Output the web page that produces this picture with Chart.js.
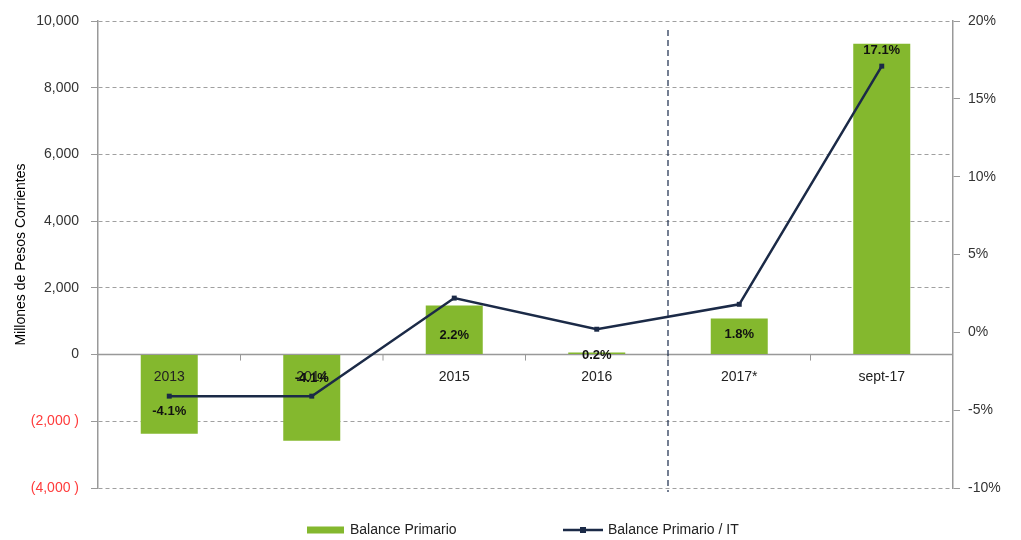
<!DOCTYPE html>
<html>
<head>
<meta charset="utf-8">
<script src="https://cdn.jsdelivr.net/npm/chart.js@4.4.1/dist/chart.umd.min.js"></script>
<style>
  html, body { margin: 0; padding: 0; background: #ffffff; }
  canvas { display: block; }
</style>
</head>
<body>
<canvas id="c" width="1021" height="540"></canvas>
<script>
const categories = ['2013', '2014', '2015', '2016', '2017*', 'sept-17'];
const balancePrimario = [-2370, -2580, 1470, 60, 1080, 9320];
const balancePrimarioIT = [-4.1, -4.1, 2.2, 0.2, 1.8, 17.1];
const leftAxisMin = -4000, leftAxisMax = 10000, leftAxisStep = 2000;
const rightAxisMin = -10, rightAxisMax = 20, rightAxisStep = 5;
const seriesNames = ['Balance Primario', 'Balance Primario / IT'];

// label vertical offsets (style only)
const labelDy = [15, -18, 37, 26, 30, -16];

const FONT = "'Liberation Sans', Arial, sans-serif";
const GREEN = '#84B82E';
const NAVY = '#1B2A47';

function fmtLeft(v) {
  const s = Math.abs(v).toLocaleString('en-US');
  return v < 0 ? '(' + s + ' )' : s;
}

const overlay = {
  id: 'overlay',
  beforeDatasetsDraw(chart) {
    const { ctx, chartArea } = chart;
    const x = chart.scales.x, y = chart.scales.y;
    const y0 = y.getPixelForValue(0);
    ctx.save();
    ctx.strokeStyle = '#999999';
    ctx.lineWidth = 1.5;
    ctx.setLineDash([]);
    ctx.beginPath();
    ctx.moveTo(chartArea.left, y0);
    ctx.lineTo(chartArea.right, y0);
    ctx.stroke();
    ctx.lineWidth = 1;
    for (let i = 0; i < categories.length - 1; i++) {
      const bx = (x.getPixelForValue(i) + x.getPixelForValue(i + 1)) / 2;
      ctx.beginPath();
      ctx.moveTo(bx, y0);
      ctx.lineTo(bx, y0 + 6);
      ctx.stroke();
    }
    ctx.restore();
  },
  afterDatasetsDraw(chart) {
    const { ctx, chartArea } = chart;
    const x = chart.scales.x, y = chart.scales.y;
    const y0 = y.getPixelForValue(0);
    const meta = chart.getDatasetMeta(0);
    ctx.save();
    // category labels (drawn over bars)
    ctx.fillStyle = '#222222';
    ctx.font = '14px ' + FONT;
    ctx.textAlign = 'center';
    ctx.textBaseline = 'middle';
    categories.forEach((c, i) => {
      ctx.fillText(c, x.getPixelForValue(i), y0 + 23);
    });
    // dashed separator between 2016 and 2017*
    const sx = (x.getPixelForValue(3) + x.getPixelForValue(4)) / 2;
    ctx.strokeStyle = '#2A3A58';
    ctx.lineWidth = 1.3;
    ctx.setLineDash([6, 4]);
    ctx.beginPath();
    ctx.moveTo(sx, chartArea.top + 9);
    ctx.lineTo(sx, chartArea.bottom + 4);
    ctx.stroke();
    ctx.setLineDash([]);
    // data labels
    ctx.fillStyle = '#111111';
    ctx.font = 'bold 13px ' + FONT;
    meta.data.forEach((pt, i) => {
      ctx.fillText(balancePrimarioIT[i].toFixed(1) + '%', pt.x, pt.y + labelDy[i]);
    });
    // legend
    const ly = 530;
    ctx.fillStyle = GREEN;
    ctx.fillRect(307, ly - 3.5, 37, 7);
    ctx.fillStyle = '#222222';
    ctx.font = '14px ' + FONT;
    ctx.textAlign = 'left';
    ctx.fillText(seriesNames[0], 350, ly);
    ctx.strokeStyle = NAVY;
    ctx.lineWidth = 2.5;
    ctx.beginPath();
    ctx.moveTo(563, ly);
    ctx.lineTo(603, ly);
    ctx.stroke();
    ctx.fillStyle = NAVY;
    ctx.fillRect(580, ly - 3, 6, 6);
    ctx.fillStyle = '#222222';
    ctx.fillText(seriesNames[1], 608, ly);
    ctx.restore();
  }
};

new Chart(document.getElementById('c'), {
  data: {
    labels: categories,
    datasets: [
      {
        type: 'line',
        label: seriesNames[1],
        data: balancePrimarioIT,
        yAxisID: 'y1',
        borderColor: NAVY,
        backgroundColor: NAVY,
        borderWidth: 2.5,
        pointStyle: 'rect',
        pointRadius: 3.5,
        pointBackgroundColor: NAVY,
        pointBorderWidth: 0,
        tension: 0,
        order: 0
      },
      {
        type: 'bar',
        label: seriesNames[0],
        data: balancePrimario,
        yAxisID: 'y',
        backgroundColor: GREEN,
        borderWidth: 0,
        barPercentage: 0.4,
        categoryPercentage: 1,
        order: 1
      }
    ]
  },
  options: {
    responsive: false,
    animation: false,
    layout: { padding: { top: 21, bottom: 52, left: 0, right: 0 } },
    plugins: { legend: { display: false }, tooltip: { enabled: false } },
    scales: {
      x: { display: false, offset: true },
      y: {
        position: 'left',
        min: leftAxisMin, max: leftAxisMax,
        ticks: {
          stepSize: leftAxisStep,
          callback: v => fmtLeft(v),
          color: c => (c.tick && c.tick.value < 0) ? '#FF3B3B' : '#333333',
          font: { family: FONT, size: 14 },
          padding: 12
        },
        grid: { color: '#A0A0A0', lineWidth: 1, tickLength: 7, tickColor: '#999999' },
        border: { display: true, color: '#999999', width: 1.5, dash: [4, 3] },
        title: { display: true, text: 'Millones de Pesos Corrientes', color: '#000000', font: { family: FONT, size: 14 }, padding: { top: 13, bottom: 0 } },
        afterFit: s => { s.width = 98; }
      },
      y1: {
        position: 'right',
        min: rightAxisMin, max: rightAxisMax,
        ticks: {
          stepSize: rightAxisStep,
          callback: v => v + '%',
          color: '#333333',
          font: { family: FONT, size: 14 },
          padding: 8
        },
        grid: { drawOnChartArea: false, tickLength: 7, tickColor: '#999999' },
        border: { display: true, color: '#999999', width: 1.5 },
        afterFit: s => { s.width = 68; }
      }
    }
  },
  plugins: [overlay]
});
</script>
</body>
</html>
